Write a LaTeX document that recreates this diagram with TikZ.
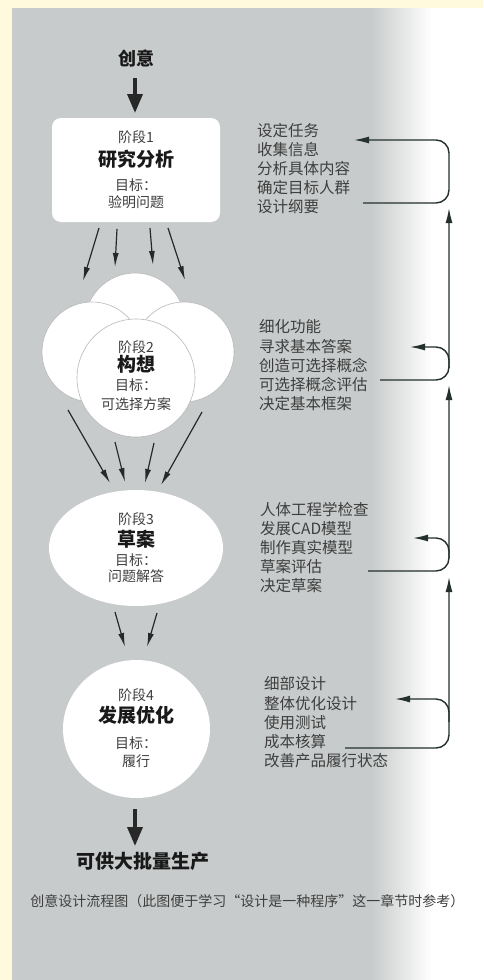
\documentclass[tikz,border=0pt]{standalone}
\usepackage{fontspec}
\setmainfont{Noto Sans CJK SC}
\usetikzlibrary{arrows.meta,shapes.geometric}
\definecolor{bgyellow}{RGB}{255,250,222}
\definecolor{bggray}{RGB}{200,203,203}
\definecolor{ink}{RGB}{40,40,40}
\definecolor{txt}{RGB}{62,62,62}
\definecolor{loopc}{RGB}{35,48,44}
\begin{document}
\begin{tikzpicture}[x=1pt,y=-1pt,
  thinarrow/.style={draw=ink, line width=1.2pt, -{Latex[length=14pt,width=6pt]}},
  thickarrow/.style={draw=ink, line width=3.6pt, -{Triangle[length=19pt,width=15pt]}},
  loopline/.style={draw=loopc, line width=1.4pt, rounded corners=13pt, -{Latex[length=15pt,width=7pt]}},
  loopbranch/.style={draw=loopc, line width=1.4pt, rounded corners=13pt, -{Latex[length=15pt,width=7pt]}},
  lbl/.style={inner sep=0pt, text height=0.88em, text depth=0.12em},
  stagelbl/.style={lbl, font=\fontsize{14}{16}\selectfont, text=txt},
  stagetitle/.style={lbl, font=\fontsize{19}{22}\selectfont\bfseries, text=black!90},
  listtxt/.style={lbl, font=\fontsize{15.5}{19}\selectfont, text=txt, anchor=west},
  bubble/.style={circle, fill=white, draw=gray!55, line width=0.6pt, inner sep=0pt}
]
\useasboundingbox (0,0) rectangle (483,980);
% background
\fill[bgyellow] (0,0) rectangle (483,980);
\fill[bggray] (12,8) rectangle (372,980);
\shade[left color=bggray, right color=white] (371,8) rectangle (432,980);
\fill[white] (431,8) rectangle (483,980);

% start
\node[stagetitle, font=\fontsize{18}{20}\selectfont\bfseries] (idea) at (136,62) {创意};
\coordinate (ideaA) at (135,78);
\coordinate (ideaB) at (135,113);
\draw[thickarrow] (ideaA) -- (ideaB);

% stage 1
\node[fill=white, rounded corners=9pt, minimum width=168pt, minimum height=104pt, inner sep=0pt] (s1) at (136,170) {};
\node[stagelbl] (s1a) at (136,139) {阶段1};
\node[stagetitle] (s1b) at (136,163) {研究分析};
\node[stagelbl] (s1c) at (136,187) {目标：};
\node[stagelbl] (s1d) at (136,204) {验明问题};

% stage 2 bubbles
\node[bubble, minimum size=100pt] (s2top) at (135,323) {};
\node[bubble, minimum size=100pt] (s2left) at (92,352) {};
\node[bubble, minimum size=100pt] (s2right) at (184,352) {};
\node[bubble, minimum size=118pt] (s2) at (136,378) {};
\node[stagelbl] (s2a) at (136,349) {阶段2};
\node[stagetitle] (s2b) at (136,368) {构想};
\node[stagelbl] (s2c) at (136,387) {目标：};
\node[stagelbl] (s2d) at (136,406) {可选择方案};

% fan 1 -> 2
\coordinate (f1a) at (99,228);  \coordinate (f1b) at (83,281);
\coordinate (f2a) at (117,229); \coordinate (f2b) at (115,267);
\coordinate (f3a) at (150,228); \coordinate (f3b) at (153,265);
\coordinate (f4a) at (168,228); \coordinate (f4b) at (185,280);
\draw[thinarrow] (f1a) -- (f1b);
\draw[thinarrow] (f2a) -- (f2b);
\draw[thinarrow] (f3a) -- (f3b);
\draw[thinarrow] (f4a) -- (f4b);

% stage 3
\node[ellipse, fill=white, minimum width=174pt, minimum height=116pt, inner sep=0pt] (s3) at (136,548) {};
\node[stagelbl] (s3a) at (136,521) {阶段3};
\node[stagetitle] (s3b) at (136,543) {草案};
\node[stagelbl] (s3c) at (136,562) {目标：};
\node[stagelbl] (s3d) at (136,578) {问题解答};

% fan 2 -> 3
\coordinate (g1a) at (68,410);  \coordinate (g1b) at (110,483);
\coordinate (g2a) at (115,442); \coordinate (g2b) at (125,482);
\coordinate (g3a) at (154,443); \coordinate (g3b) at (145,483);
\coordinate (g4a) at (202,412); \coordinate (g4b) at (161,485);
\draw[thinarrow] (g1a) -- (g1b);
\draw[thinarrow] (g2a) -- (g2b);
\draw[thinarrow] (g3a) -- (g3b);
\draw[thinarrow] (g4a) -- (g4b);

% stage 4
\node[ellipse, fill=white, minimum width=147pt, minimum height=138pt, inner sep=0pt] (s4) at (136.5,729) {};
\node[stagelbl] (s4a) at (136,697) {阶段4};
\node[stagetitle] (s4b) at (136,719) {发展优化};
\node[stagelbl] (s4c) at (136,745) {目标：};
\node[stagelbl] (s4d) at (136,763) {履行};

% fan 3 -> 4
\coordinate (h1a) at (115,612); \coordinate (h1b) at (125,647);
\coordinate (h2a) at (157,613); \coordinate (h2b) at (147,647);
\draw[thinarrow] (h1a) -- (h1b);
\draw[thinarrow] (h2a) -- (h2b);

% end
\coordinate (endA) at (135,809);
\coordinate (endB) at (135,846);
\draw[thickarrow] (endA) -- (endB);
\node[stagetitle] (prod) at (143,865) {可供大批量生产};

% caption
\node[lbl, font=\fontsize{14}{16}\selectfont, text=txt] (cap) at (247.5,903) {创意设计流程图（此图便于学习“设计是一种程序”这一章节时参考）};

% lists
\foreach \t [count=\i] in {设定任务,收集信息,分析具体内容,确定目标人群,设计纲要}
  \node[listtxt] (la\i) at (257,{133+19*(\i-1)}) {\t};
\foreach \t [count=\i] in {细化功能,寻求基本答案,创造可选择概念,可选择概念评估,决定基本框架}
  \node[listtxt] (lb\i) at (259,{329+19.2*(\i-1)}) {\t};
\foreach \t [count=\i] in {人体工程学检查,发展CAD模型,制作真实模型,草案评估,决定草案}
  \node[listtxt] (lc\i) at (260,{512+18.8*(\i-1)}) {\t};
\foreach \t [count=\i] in {细部设计,整体优化设计,使用测试,成本核算,改善产品履行状态}
  \node[listtxt] (ld\i) at (264,{686+19.2*(\i-1)}) {\t};

% feedback loops
\coordinate (p1s) at (363,203); \coordinate (p1c1) at (449,203); \coordinate (p1c2) at (449,140); \coordinate (p1e) at (354,140);
\draw[loopline] (p1s) -- (p1c1) -- (p1c2) -- (p1e);

\coordinate (p2s) at (380,380); \coordinate (p2c) at (449,380); \coordinate (p2e) at (449,208);
\coordinate (p2b) at (449,368); \coordinate (p2bc) at (449,347); \coordinate (p2be) at (410,347);
\draw[loopline] (p2s) -- (p2c) -- (p2e);
\draw[loopbranch] (p2b) -- (p2bc) -- (p2be);

\coordinate (p3s) at (368,571); \coordinate (p3c) at (449,571); \coordinate (p3e) at (449,385);
\coordinate (p3b) at (449,558); \coordinate (p3bc) at (449,538); \coordinate (p3be) at (413,538);
\draw[loopline] (p3s) -- (p3c) -- (p3e);
\draw[loopbranch] (p3b) -- (p3bc) -- (p3be);

\coordinate (p4s) at (345,748); \coordinate (p4c) at (449,748); \coordinate (p4e) at (449,577);
\coordinate (p4b) at (449,722); \coordinate (p4bc) at (449,699); \coordinate (p4be) at (395,699);
\draw[loopline] (p4s) -- (p4c) -- (p4e);
\draw[loopbranch] (p4b) -- (p4bc) -- (p4be);
\end{tikzpicture}
\end{document}
